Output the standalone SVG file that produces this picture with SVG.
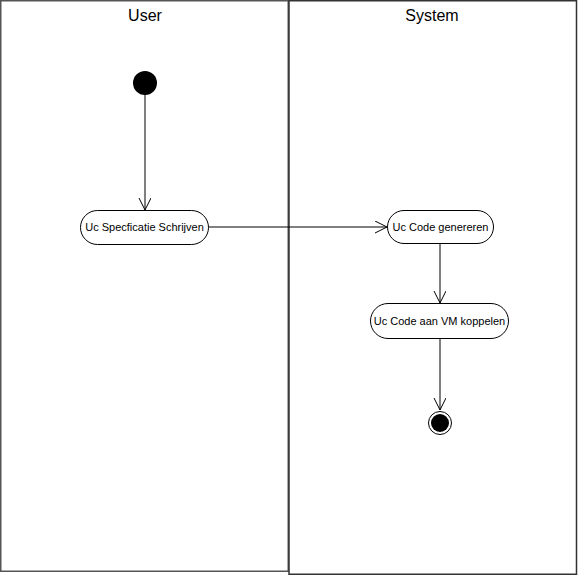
<svg xmlns="http://www.w3.org/2000/svg" width="578" height="576" viewBox="0 0 578 576">
<style>
.lane{fill:#fff;stroke:#555;stroke-width:1.5}
.title{font-family:"Liberation Sans",Arial,sans-serif;font-size:16px;fill:#000;text-anchor:middle}
.act{fill:#fff;stroke:#000;stroke-width:1}
.lbl{font-family:"Liberation Sans",Arial,sans-serif;font-size:11px;fill:#000;text-anchor:middle}
.edge{fill:none;stroke:#000;stroke-width:1}
</style>
<defs>
<marker id="open" markerWidth="14" markerHeight="14" refX="12" refY="6" orient="auto" markerUnits="userSpaceOnUse">
<path d="M0,0 L12,6 L0,12" fill="none" stroke="#000" stroke-width="1"/>
</marker>
</defs>
<rect width="578" height="576" fill="#fff"/>
<g id="lane-user">
<rect class="lane" x="0.75" y="0.75" width="287.5" height="570.5"/>
<text class="title" x="145" y="21">User</text>
</g>
<g id="lane-system">
<rect class="lane" x="289" y="0.75" width="287.5" height="573.5" style="stroke:#333"/>
<text class="title" x="432" y="21">System</text>
</g>
<g id="connectors">
<line class="edge" x1="145" y1="94" x2="145" y2="210" marker-end="url(#open)"/>
<line class="edge" x1="208" y1="227" x2="387" y2="227" marker-end="url(#open)"/>
<line class="edge" x1="440" y1="243" x2="440" y2="303" marker-end="url(#open)"/>
<line class="edge" x1="440" y1="338" x2="440" y2="410" marker-end="url(#open)"/>
</g>
<g id="start">
<circle cx="145" cy="83" r="12" fill="#000"/>
</g>
<g id="act1">
<rect class="act" x="80.5" y="210.5" width="128" height="34" rx="17"/>
<text class="lbl" x="144.5" y="231">Uc Specficatie Schrijven</text>
</g>
<g id="act2">
<rect class="act" x="387.5" y="210.5" width="106" height="33" rx="16.5"/>
<text class="lbl" x="440.5" y="231">Uc Code genereren</text>
</g>
<g id="act3">
<rect class="act" x="370.5" y="303.5" width="138" height="35" rx="17.5"/>
<text class="lbl" x="439.5" y="325">Uc Code aan VM koppelen</text>
</g>
<g id="end">
<circle cx="440" cy="423" r="11.5" fill="#fff" stroke="#000" stroke-width="1"/>
<circle cx="440" cy="423" r="9" fill="#000"/>
</g>
</svg>
